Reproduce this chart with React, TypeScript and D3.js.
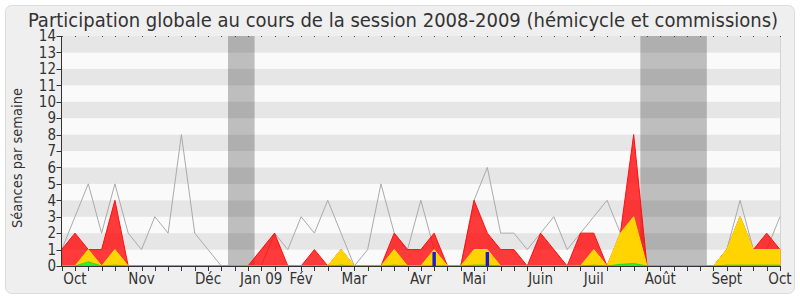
import React from "react";
import * as d3 from "d3";

const WIDTH = 800;
const HEIGHT = 300;

// weekly values, session 2008-2009 (55 weeks)
const greyLine = [1, 3, 5, 2, 5, 2, 1, 3, 2, 8, 2, 1, 0, 0, 0, 0, 2, 1, 3, 2, 4, 2, 0, 1, 5, 2, 1, 4, 1, 0, 0, 4, 6, 2, 2, 1, 2, 3, 1, 2, 3, 4, 2, 1, 0, 0, 0, 0, 0, 0, 1, 4, 1, 1, 3];
const redSeries = [1, 2, 1, 1, 4, 0, 0, 0, 0, 0, 0, 0, 0, 0, 0, 1, 2, 0, 0, 1, 0, 1, 0, 0, 0, 2, 1, 1, 2, 0, 0, 4, 2, 1, 1, 0, 2, 1, 0, 2, 2, 0, 2, 8, 0, 0, 0, 0, 0, 0, 1, 3, 1, 2, 1];
const yellowSeries = [0, 0, 1, 0, 1, 0, 0, 0, 0, 0, 0, 0, 0, 0, 0, 0, 0, 0, 0, 0, 0, 1, 0, 0, 0, 1, 0, 0, 1, 0, 0, 1, 1, 0, 0, 0, 0, 0, 0, 0, 1, 0, 2, 3, 0, 0, 0, 0, 0, 0, 1, 3, 1, 1, 1];
const greenSeries = [0, 0, 0.25, 0, 0.05, 0, 0, 0, 0, 0, 0, 0, 0, 0, 0, 0, 0, 0, 0, 0, 0, 0.05, 0, 0, 0, 0.05, 0, 0, 0, 0, 0, 0.05, 0.05, 0, 0, 0, 0, 0, 0, 0, 0.05, 0, 0.1, 0.15, 0, 0, 0, 0, 0, 0, 0.05, 0.05, 0.05, 0.05, 0.05];
const blueBars = [
  { week: 28, value: 0.85 },
  { week: 32, value: 0.85 },
];
const vacations = [
  [12.5, 14.5],
  [43.5, 48.5],
];
const monthLabels = ["Oct", "Nov", "Déc", "Jan 09", "Fév", "Mar", "Avr", "Mai", "Juin", "Juil", "Août", "Sept", "Oct"];
const monthWeeks = [1, 6, 11, 15, 18, 22, 27, 31, 36, 40, 45, 50, 54];
const yTicks = d3.range(0, 15);

const FONT = "'DejaVu Sans Condensed', 'DejaVu Sans', sans-serif";

export default function App() {
  const n = greyLine.length;
  const x = d3.scaleLinear().domain([0, n - 1]).range([61.7, 780]);
  const y = d3.scaleLinear().domain([0, 14]).range([266, 36]);
  const weeks = d3.range(n);

  const area = (vals: number[]) =>
    d3
      .area<number>()
      .x((_, i) => x(i))
      .y0(y(0))
      .y1((d) => y(d))(vals) || "";
  const line = d3
    .line<number>()
    .x((_, i) => x(i))
    .y((d) => y(d));

  return (
    <svg
      width={WIDTH}
      height={HEIGHT}
      style={{ position: "absolute", left: 0, top: 0, background: "#fff" }}
      fontFamily={FONT}
    >
      <rect x={5.5} y={5.5} width={789} height={288} rx={6} fill="#efefef" stroke="#dcdcdc" />
      <text x={403} y={26.8} textAnchor="middle" fontSize={20} fill="#333">
        Participation globale au cours de la session 2008-2009 (hémicycle et commissions)
      </text>

      {/* stripes */}
      {d3.range(14).map((k) => (
        <rect
          key={"s" + k}
          x={62}
          y={y(k + 1)}
          width={780 - 62}
          height={y(k) - y(k + 1)}
          fill={k % 2 === 1 ? "#e6e6e6" : "#fafafa"}
        />
      ))}
      <line x1={780.5} x2={780.5} y1={36} y2={266} stroke="#d4d4d4" />

      {/* vacation bands */}
      {vacations.map((v, i) => (
        <rect
          key={"v" + i}
          x={x(v[0])}
          y={36}
          width={x(v[1]) - x(v[0])}
          height={230}
          fill="#000"
          fillOpacity={0.24}
        />
      ))}

      {/* top dots */}
      {weeks.map((i) => (
        <rect key={"d" + i} x={Math.round(x(i))} y={36} width={1} height={1} fill="#444" />
      ))}

      {/* grey line */}
      <path d={line(greyLine) || ""} fill="none" stroke="#aaaaaa" strokeWidth={1} />

      {/* areas */}
      <path d={area(redSeries)} fill="#ff0000" fillOpacity={0.77} stroke="#ff1010" strokeWidth={1} />
      <path d={area(yellowSeries)} fill="#ffd400" stroke="#ffe000" strokeWidth={1} />
      <path d={area(greenSeries)} fill="#33ee33" stroke="#22dd22" strokeWidth={1} />

      {/* blue bars */}
      {blueBars.map((b, i) => (
        <rect
          key={"b" + i}
          x={x(b.week) - 1.7}
          y={y(b.value)}
          width={3.4}
          height={y(0) - y(b.value)}
          fill="#1a1ad0"
        />
      ))}

      {/* axes */}
      <line x1={61.5} x2={61.5} y1={36} y2={266.5} stroke="#333" />
      <line x1={61} x2={780.5} y1={266.5} y2={266.5} stroke="#333" />
      {yTicks.map((t) => (
        <g key={"y" + t}>
          <line x1={56.5} x2={61.5} y1={Math.round(y(t)) + 0.5} y2={Math.round(y(t)) + 0.5} stroke="#333" />
          <text x={56} y={y(t) + 5.3} textAnchor="end" fontSize={15} fill="#333">
            {t}
          </text>
        </g>
      ))}
      {weeks.map((i) => (
        <line
          key={"xt" + i}
          x1={Math.round(x(i)) + 0.5}
          x2={Math.round(x(i)) + 0.5}
          y1={266}
          y2={271}
          stroke="#333"
        />
      ))}
      {monthLabels.map((m, i) => (
        <text key={"m" + i} x={x(monthWeeks[i])} y={284.3} textAnchor="middle" fontSize={15} fill="#333">
          {m}
        </text>
      ))}
      <text
        transform={`translate(22,158) rotate(-90)`}
        textAnchor="middle"
        fontSize={14.5}
        fill="#333"
      >
        Séances par semaine
      </text>
    </svg>
  );
}
